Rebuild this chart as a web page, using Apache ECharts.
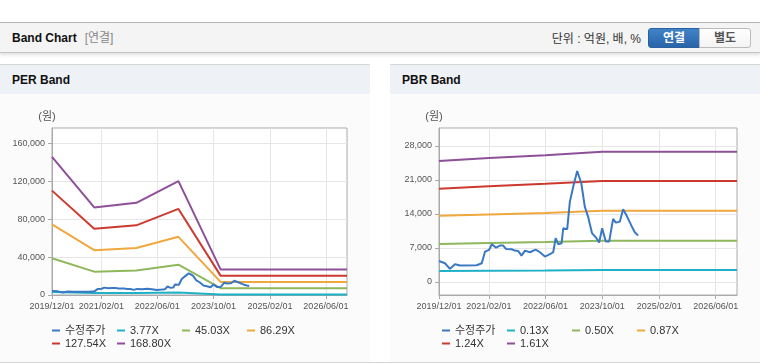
<!DOCTYPE html>
<html>
<head>
<meta charset="utf-8">
<script src="https://cdn.jsdelivr.net/npm/echarts@6/dist/echarts.min.js"></script>
<style>
  body {
    margin: 0;
    width: 760px;
    height: 364px;
    position: relative;
    overflow: hidden;
    background: #fff;
    font-family: 'Liberation Sans', 'Noto Sans CJK KR', sans-serif;
  }
  .topbar {
    position: absolute;
    left: 0; top: 22px;
    width: 760px; height: 29px;
    background: #f4f4f4;
    border-top: 1px solid #b5b5b5;
    border-bottom: 1px solid #c4c4c4;
    box-shadow: 0 2px 3px rgba(0, 0, 0, 0.12);
  }
  .main-title {
    position: absolute;
    left: 12px; top: 30px;
    font-size: 12px; font-weight: bold; color: #111;
    line-height: 16px;
  }
  .main-title span { font-weight: normal; color: #888; margin-left: 8px; }
  .unit {
    position: absolute;
    right: 119px; top: 31px;
    font-size: 12px; color: #333; line-height: 16px;
  }
  .btn {
    position: absolute;
    top: 28px; height: 18px; width: 50px;
    font-size: 12px; font-weight: bold;
    text-align: center; line-height: 18px;
  }
  .btn.on {
    left: 648px;
    color: #fff;
    background: linear-gradient(#4083c8, #2a63a8);
    border: 1px solid #2a60a0;
    border-radius: 3px 0 0 3px;
  }
  .btn.off {
    left: 699px;
    color: #555;
    background: linear-gradient(#fff, #f3f3f3);
    border: 1px solid #bbb;
    border-radius: 0 3px 3px 0;
  }
  .panel {
    position: absolute;
    top: 64px; width: 370px; height: 297px;
    background: #fbfbfb;
    border-top: 1px solid #d6d6d6;
  }
  .panel-head {
    height: 29px;
    background: #eef1f6;
    font-size: 12px; font-weight: bold; color: #111;
    line-height: 30px;
    padding-left: 12px;
  }
  .chart-container {
    width: 370px;
    height: 268px;
  }
  .bottom-line {
    position: absolute;
    left: 0; top: 362px;
    width: 760px; height: 1px;
    background: #d6d6d6;
  }
</style>
</head>
<body>
  <div class="topbar"></div>
  <div class="main-title">Band Chart<span>[연결]</span></div>
  <div class="unit">단위 : 억원, 배, %</div>
  <div class="btn on">연결</div>
  <div class="btn off">별도</div>

  <div class="panel" style="left:0">
    <div class="panel-head">PER Band</div>
    <div id="per" class="chart-container"></div>
  </div>
  <div class="panel" style="left:390px">
    <div class="panel-head">PBR Band</div>
    <div id="pbr" class="chart-container"></div>
  </div>
  <div class="bottom-line"></div>

<script>
const FONT = "'Liberation Sans', 'Noto Sans CJK KR', sans-serif";

// x axis
const xStart = '2019-12-01';
const xEnd = '2026-12-01';
const xTickDates = ['2019-12-01', '2021-02-01', '2022-06-01', '2023-10-01', '2025-02-01', '2026-06-01'];

// 수정주가 (same price in both charts)
const priceDates = [
  '2019-12-01', '2020-01-21', '2020-03-04', '2020-04-16', '2020-05-29', '2020-10-19',
  '2020-12-02', '2020-12-16', '2020-12-30', '2021-02-03', '2021-02-26', '2021-04-03',
  '2021-05-07', '2021-06-04', '2021-06-27', '2021-08-15', '2021-09-12', '2021-10-10',
  '2021-11-08', '2021-12-08', '2022-01-19', '2022-03-09', '2022-04-15', '2022-05-28',
  '2022-07-10', '2022-08-07', '2022-08-28', '2022-09-19', '2022-10-18', '2022-11-01',
  '2022-12-05', '2022-12-28', '2023-01-26', '2023-03-01', '2023-04-05', '2023-05-05',
  '2023-06-02', '2023-07-06', '2023-08-13', '2023-09-05', '2023-10-01', '2023-11-01',
  '2023-11-30', '2024-01-03', '2024-01-26', '2024-03-01', '2024-03-29', '2024-05-02',
  '2024-06-09', '2024-07-07', '2024-08-05'
];
const priceValues = [
  4300, 3840, 2680, 3640, 3360, 3430,
  3840, 3640, 6240, 6590, 7760, 7060,
  7480, 7480, 6800, 6730, 6450, 6380,
  5420, 6450, 6110, 6660, 6110, 5210,
  5700, 6110, 8990, 7760, 7960, 11050,
  10850, 16530, 19630, 22850, 20320, 15500,
  13450, 10030, 9000, 8100, 11050, 8300,
  8300, 12970, 12210, 12420, 14970, 13450,
  11530, 10230, 9530
];

// PER band
const perNames = ['수정주가', '3.77X', '45.03X', '86.29X', '127.54X', '168.80X'];
const perBandDates = ['2019-12-01', '2020-12-01', '2021-12-01', '2022-12-01', '2023-12-01', '2026-12-01'];
const per377 = [3250, 2060, 2170, 2680, 600, 600];
const per4503 = [38800, 24600, 25900, 32000, 7200, 7200];
const per8629 = [74400, 47200, 49600, 61300, 13800, 13800];
const per12754 = [110000, 69700, 73400, 90700, 20400, 20400];
const per16880 = [145600, 92300, 97100, 120000, 27000, 27000];
const perTicks = [0, 40000, 80000, 120000, 160000];

// PBR band
const pbrNames = ['수정주가', '0.13X', '0.50X', '0.87X', '1.24X', '1.61X'];
const pbrBandDates = ['2019-12-01', '2021-02-01', '2022-06-01', '2023-10-01', '2026-12-01'];
const pbr013 = [2250, 2300, 2350, 2450, 2450];
const pbr050 = [7800, 8000, 8200, 8450, 8450];
const pbr087 = [13600, 13900, 14200, 14650, 14650];
const pbr124 = [19200, 19700, 20200, 20800, 20800];
const pbr161 = [24900, 25500, 26100, 26800, 26800];
const pbrTicks = [0, 7000, 14000, 21000, 28000];

const colors = ['#3a78c4', '#1fb1c6', '#8fb75b', '#f0a83e', '#cc3a2f', '#8e5098'];

// dates are kept as timestamps on a value axis so custom ticks can be used
const toTime = (d) => new Date(d.replace(/-/g, '/')).getTime();
const pad = (n) => (n < 10 ? '0' + n : '' + n);
const fmtDate = (val) => {
  const d = new Date(val);
  return d.getFullYear() + '/' + pad(d.getMonth() + 1) + '/' + pad(d.getDate());
};
const pairs = (dates, values) => dates.map((d, i) => [toTime(d), values[i]]);

const buildOption = (names, bandDates, bands, yMin, yMax, yTicks, gridLeft) => {
  const xTicks = xTickDates.map(toTime);
  const series = [{
    name: names[0],
    type: 'line',
    data: pairs(priceDates, priceValues),
    showSymbol: false,
    color: colors[0],
    lineStyle: { width: 2 },
    z: 5,
  }];
  bands.forEach((vals, i) => {
    series.push({
      name: names[i + 1],
      type: 'line',
      data: pairs(bandDates, vals),
      showSymbol: false,
      color: colors[i + 1],
      lineStyle: { width: 2 },
      z: 3,
    });
  });

  return {
    animation: false,
    textStyle: { fontFamily: FONT },
    grid: {
      left: gridLeft,
      right: 23,
      top: 34,
      height: 167,
      show: true,
      backgroundColor: '#fff',
      borderColor: '#aaa',
      borderWidth: 1,
    },
    legend: {
      data: names,
      left: 52,
      top: 230,
      width: 262,
      padding: 0,
      itemGap: 0,
      itemWidth: 8,
      itemHeight: 2,
      icon: 'rect',
      textStyle: { fontSize: 11, color: '#333', width: 52, lineHeight: 13 },
    },
    xAxis: {
      type: 'value',
      min: toTime(xStart),
      max: toTime(xEnd),
      axisLine: { onZero: false, lineStyle: { color: '#aaa' } },
      axisTick: { show: true, length: 4, customValues: xTicks, lineStyle: { color: '#aaa' } },
      axisLabel: {
        customValues: xTicks,
        formatter: fmtDate,
        color: '#555',
        fontSize: 9,
        margin: 7,
      },
      splitLine: { show: true, lineStyle: { color: '#e6e6e6' } },
    },
    yAxis: {
      type: 'value',
      min: yMin,
      max: yMax,
      name: '(원)',
      nameLocation: 'end',
      nameGap: 6,
      nameTextStyle: { color: '#555', fontSize: 11, padding: [0, 10, 0, 0] },
      axisLine: { show: true, lineStyle: { color: '#aaa' } },
      axisTick: { show: true, length: 4, customValues: yTicks, lineStyle: { color: '#aaa' } },
      axisLabel: {
        customValues: yTicks,
        formatter: (v) => v.toLocaleString('en-US'),
        color: '#555',
        fontSize: 9,
        margin: 7,
      },
      splitLine: { show: true, lineStyle: { color: '#e6e6e6' } },
    },
    series,
  };
};

const perChart = echarts.init(document.getElementById('per'));
perChart.setOption(buildOption(
  perNames, perBandDates, [per377, per4503, per8629, per12754, per16880],
  0, 176000, perTicks, 52
));

const pbrChart = echarts.init(document.getElementById('pbr'));
pbrChart.setOption(buildOption(
  pbrNames, pbrBandDates, [pbr013, pbr050, pbr087, pbr124, pbr161],
  -2700, 31700, pbrTicks, 49
));
</script>
</body>
</html>
